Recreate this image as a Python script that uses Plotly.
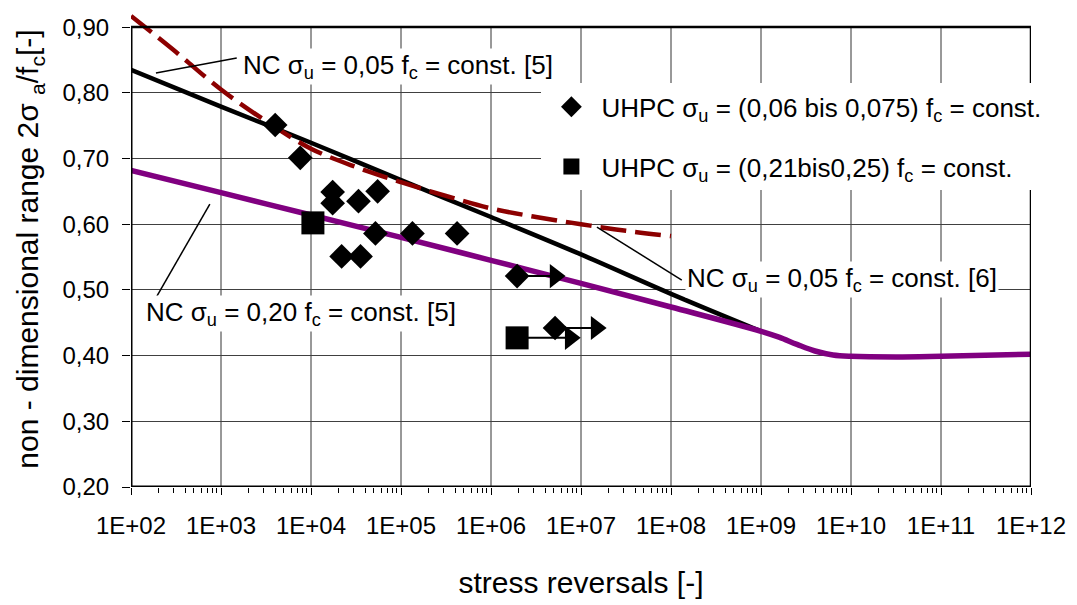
import numpy as np
import plotly.graph_objects as go

# ---------------- data ----------------
# NC sigma_u = 0,05 fc = const. [5]  (black)
nc5_005_x = [1e2, 1e3, 1e4, 1e5, 1e6, 1e7, 1e8, 1e9]
nc5_005_y = [0.835, 0.779, 0.724, 0.667, 0.611, 0.554, 0.494, 0.437]

# NC sigma_u = 0,20 fc = const. [5]  (purple)
nc5_020_x = [1e2, 1e3, 1e4, 1e5, 1e6, 1e7, 1e8, 1e9, 10**9.2, 10**9.4, 10**9.6,
             10**9.8, 1e10, 10**10.5, 1e11, 1e12]
nc5_020_y = [0.682, 0.648, 0.614, 0.580, 0.545, 0.510, 0.474, 0.437, 0.428, 0.417,
             0.407, 0.401, 0.399, 0.398, 0.399, 0.402]

# NC sigma_u = 0,05 fc = const. [6]  (dashed dark red)
nc6_005_x = [1e2, 10**2.5, 1e3, 10**3.5, 1e4, 10**4.5, 1e5, 10**5.5, 1e6, 10**6.5,
             1e7, 10**7.5, 1e8]
nc6_005_y = [0.917, 0.862, 0.805, 0.757, 0.715, 0.687, 0.664, 0.643, 0.624, 0.611,
             0.600, 0.590, 0.582]

# UHPC sigma_u = (0,06 bis 0,075) fc
uhpc1_x = [4.0e3, 7.6e3, 1.74e4, 1.74e4, 3.37e4, 5.5e4, 5.2e4, 2.19e4, 3.55e4,
           1.34e5, 4.2e5, 1.95e6, 5.15e6]
uhpc1_y = [0.751, 0.701, 0.649, 0.632, 0.635, 0.650, 0.586, 0.551, 0.551,
           0.586, 0.586, 0.521, 0.442]

# UHPC sigma_u = (0,21bis0,25) fc
uhpc2_x = [1.05e4, 1.95e6]
uhpc2_y = [0.602, 0.427]

# run-outs (start point, arrow tip)
runout_x = [1.95e6, 1.95e6, 5.15e6]
runout_y = [0.521, 0.427, 0.442]
runout_tip = [7.0e6, 1.03e7, 2.0e7]

x_ticks = [10.0 ** k for k in range(2, 13)]
x_ticktext = ["1E+%02d" % k for k in range(2, 13)]
y_ticks = [0.2, 0.3, 0.4, 0.5, 0.6, 0.7, 0.8, 0.9]
y_ticktext = ["%.2f" % v for v in y_ticks]
y_ticktext = [t.replace(".", ",") for t in y_ticktext]

FONT = "Liberation Sans, Arial, sans-serif"

fig = go.Figure()

fig.add_trace(go.Scatter(x=nc5_005_x, y=nc5_005_y, mode="lines",
                         line=dict(color="black", width=4.5, shape="spline"),
                         showlegend=False, hoverinfo="skip"))
fig.add_trace(go.Scatter(x=nc5_020_x, y=nc5_020_y, mode="lines",
                         line=dict(color="#800080", width=5.5, shape="spline"),
                         showlegend=False, hoverinfo="skip"))
fig.add_trace(go.Scatter(x=nc6_005_x, y=nc6_005_y, mode="lines",
                         line=dict(color="#8c0000", width=4.5, shape="spline",
                                   dash="26px,9px"),
                         showlegend=False, hoverinfo="skip"))

# run-out arrows
tri_shift = 10 ** (12 / 90.2)
for xs, ys, xt in zip(runout_x, runout_y, runout_tip):
    fig.add_trace(go.Scatter(x=[xs, xt / tri_shift], y=[ys, ys], mode="lines",
                             line=dict(color="black", width=2),
                             showlegend=False, hoverinfo="skip"))
fig.add_trace(go.Scatter(x=[t / tri_shift for t in runout_tip], y=runout_y,
                         mode="markers",
                         marker=dict(symbol="triangle-right", size=21, color="black"),
                         showlegend=False, hoverinfo="skip"))

fig.add_trace(go.Scatter(x=uhpc1_x, y=uhpc1_y, mode="markers",
                         name="UHPC σ<sub>u</sub> = (0,06 bis 0,075) f<sub>c</sub> = const.",
                         legendgroup="a",
                         marker=dict(symbol="diamond", size=19, color="black")))
fig.add_trace(go.Scatter(x=uhpc2_x, y=uhpc2_y, mode="markers",
                         name="UHPC σ<sub>u</sub> = (0,21bis0,25) f<sub>c</sub> = const.",
                         legendgroup="b",
                         marker=dict(symbol="square", size=23, color="black")))

shapes = []
for xv in x_ticks[1:-1]:
    shapes.append(dict(type="line", xref="x", yref="y", x0=xv, x1=xv, y0=0.2, y1=0.9,
                       line=dict(color="#333333", width=1), layer="below"))
# frame
shapes.append(dict(type="line", xref="x", yref="y", x0=1e2, x1=1e12, y0=0.9, y1=0.9,
                   line=dict(color="black", width=2.5)))
shapes.append(dict(type="line", xref="x", yref="y", x0=1e12, x1=1e12, y0=0.2, y1=0.9,
                   line=dict(color="black", width=2.5)))
shapes.append(dict(type="line", xref="x", yref="y", x0=1e2, x1=1e2, y0=0.2, y1=0.9,
                   line=dict(color="black", width=3)))
shapes.append(dict(type="line", xref="x", yref="y", x0=1e2, x1=1e12, y0=0.2, y1=0.2,
                   line=dict(color="black", width=3)))
# leader lines of the labels
leaders = [((10 ** 2.277, 0.830), (10 ** 3.175, 0.8528)),
           ((10 ** 7.177, 0.5956), (10 ** 8.12, 0.5149)),
           ((10 ** 2.876, 0.6306), (10 ** 2.288, 0.4906))]
for (xa, ya), (xb, yb) in leaders:
    shapes.append(dict(type="line", xref="x", yref="y", x0=xa, y0=ya, x1=xb, y1=yb,
                       line=dict(color="black", width=1.5)))

annotations = [
    dict(x=4.971, y=0.8406, text="NC σ<sub>u</sub> = 0,05 f<sub>c</sub> = const. [5]"),
    dict(x=9.905, y=0.5164, text="NC σ<sub>u</sub> = 0,05 f<sub>c</sub> = const. [6]"),
    dict(x=3.890, y=0.4647, text="NC σ<sub>u</sub> = 0,20 f<sub>c</sub> = const. [5]"),
]
for a in annotations:
    a.update(xref="x", yref="y", showarrow=False, bgcolor="white",
             font=dict(family=FONT, size=26, color="black"),
             xanchor="center", yanchor="middle")

fig.update_layout(
    width=1077, height=605,
    margin=dict(l=131, r=44, t=11, b=118),
    paper_bgcolor="white", plot_bgcolor="white",
    font=dict(family=FONT, color="black"),
    shapes=shapes, annotations=annotations,
    legend=dict(x=0.456, y=0.848, xanchor="left", yanchor="top",
                bgcolor="white", font=dict(family=FONT, size=26, color="black"),
                itemwidth=50, tracegroupgap=23),
)
fig.update_xaxes(type="log", range=[2, 12], tickvals=x_ticks, ticktext=x_ticktext,
                 ticks="outside", ticklen=7, tickcolor="black", tickwidth=1,
                 showgrid=False, zeroline=False, showline=False,
                 tickfont=dict(family=FONT, size=24, color="black"),
                 ticklabelstandoff=10,
                 minor=dict(ticks="outside", ticklen=5, tickcolor="black", dtick="D1",
                            showgrid=False),
                 title=dict(text="stress reversals [-]",
                            font=dict(family=FONT, size=30, color="black"), standoff=34))
fig.update_yaxes(range=[0.2, 0.9245], tickvals=y_ticks, ticktext=y_ticktext,
                 ticks="outside", ticklen=8, tickcolor="black", tickwidth=1,
                 showgrid=True, gridcolor="#404040", gridwidth=1,
                 zeroline=False, showline=False,
                 tickfont=dict(family=FONT, size=24, color="black"),
                 ticklabelstandoff=8,
                 title=dict(text="non - dimensional range 2σ <sub>a</sub>/f<sub>c</sub>[-]",
                            font=dict(family=FONT, size=30, color="black"), standoff=14))

fig.write_html("out.html")
